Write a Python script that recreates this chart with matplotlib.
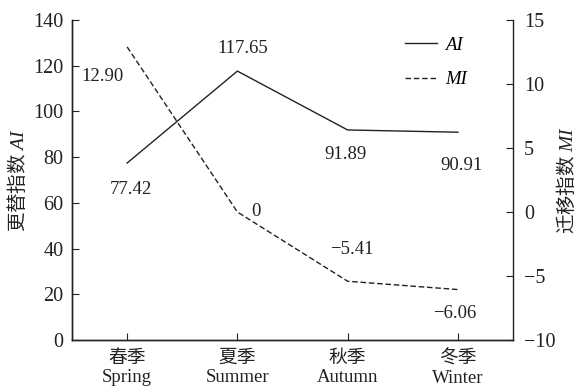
import matplotlib
matplotlib.use("Agg")
import matplotlib.pyplot as plt

# seasonal AI / MI values
seasons_cn = ["春季", "夏季", "秋季", "冬季"]
seasons_en = ["Spring", "Summer", "Autumn", "Winter"]
ai_values = [77.42, 117.65, 91.89, 90.91]
mi_values = [12.90, 0, -5.41, -6.06]
ai_labels = ["77.42", "117.65", "91.89", "90.91"]
mi_labels = ["12.90", "0", "\u22125.41", "\u22126.06"]

# label offsets (pixels) for each point
ai_offsets = [(4, -26), (5, 23), (-2, -25), (4, -33)]
mi_offsets = [(-25, -30), (19, 0), (4, 32), (-3, -24)]

plt.rcParams['font.family'] = ['Liberation Serif', 'Noto Sans CJK SC']
plt.rcParams['mathtext.fontset'] = 'custom'
plt.rcParams['mathtext.it'] = 'Liberation Serif:italic'
plt.rcParams['mathtext.rm'] = 'Liberation Serif'

FS = 13.5
TICK_FS = 14.5
INK = '#222222'

fig = plt.figure(figsize=(5.78, 3.88), dpi=100)
ax = fig.add_axes([72 / 578, 48 / 388, 441 / 578, 320 / 388])
ax2 = ax.twinx()

x = list(range(len(seasons_cn)))
l1, = ax.plot(x, ai_values, color=INK, lw=1.0, label='AI')
l2, = ax2.plot(x, mi_values, color=INK, lw=1.0, ls=(0, (4, 2)), label='MI')

ax.set_xlim(-0.5, 3.5)
ax.set_ylim(0, 140)
ax.set_yticks(range(0, 141, 20))
ax2.set_ylim(-10, 15)
ax2.set_yticks(range(-10, 16, 5))

ax.set_xticks(x)
ax.set_xticklabels([f"{c}\n{e}" for c, e in zip(seasons_cn, seasons_en)],
                   linespacing=1.2)

for a in (ax, ax2):
    a.spines['top'].set_visible(False)
    for s in a.spines.values():
        s.set_color(INK)
        s.set_linewidth(1.0)
ax.spines['right'].set_visible(False)

ax.tick_params(axis='y', direction='in', length=5, pad=6, labelsize=TICK_FS, colors=INK)
ax.tick_params(axis='x', direction='in', length=5, pad=7, labelsize=FS, colors=INK)
ax2.tick_params(axis='y', direction='in', length=5, pad=8, labelsize=TICK_FS, colors=INK)

ax.set_ylabel("更替指数 $AI$", family='Noto Sans CJK SC', fontsize=14,
              color=INK, va='center')
ax2.set_ylabel("迁移指数 $MI$", family='Noto Sans CJK SC', fontsize=14,
               color=INK, va='center')
ax.yaxis.set_label_coords((18 - 72) / 441, 0.5)
ax2.yaxis.set_label_coords((567 - 72) / 441, 0.5)

for xi, v, t, off in zip(x, ai_values, ai_labels, ai_offsets):
    ax.annotate(t, (xi, v), xytext=off, textcoords='offset pixels',
                ha='center', va='center', fontsize=FS, color=INK)
for xi, v, t, off in zip(x, mi_values, mi_labels, mi_offsets):
    ax2.annotate(t, (xi, v), xytext=off, textcoords='offset pixels',
                 ha='center', va='center', fontsize=FS, color=INK)

ax.legend([l1, l2], ['AI', 'MI'], loc='upper left',
          bbox_to_anchor=(396 / 578, 1 - 27 / 388), bbox_transform=fig.transFigure,
          frameon=False, handlelength=1.7, handletextpad=0.4, labelspacing=0.95,
          borderpad=0, prop={'family': 'Liberation Serif', 'style': 'italic', 'size': FS})

fig.savefig("out.png", dpi=100)
